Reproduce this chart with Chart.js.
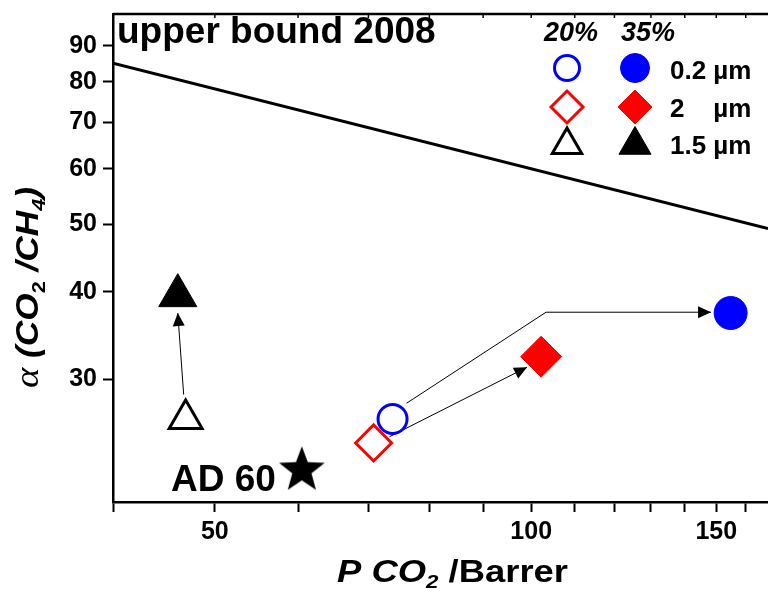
<!DOCTYPE html>
<html lang="en">
<head>
<meta charset="UTF-8" />
<title>CO2/CH4 permeability vs selectivity</title>
<script src="https://cdn.jsdelivr.net/npm/chart.js"></script>
<style>
  body { margin: 0; background: #fff; overflow: hidden; }
  canvas { display: block; }
</style>
</head>
<body>
<canvas id="chart" width="768" height="604"></canvas>
<script>
  // values (log-log axes)
  const sizes = ['0.2 µm', '2    µm', '1.5 µm'];
  const loadings = ['20%', '35%'];
  const perm20 = [73.8, 70.8, 46.9];
  const alpha20 = [26.3, 24.3, 26.3];
  const perm35 = [154.8, 102.2, 46.1];
  const alpha35 = [37.3, 32.3, 39.5];
  const ad60Perm = [60.5];
  const ad60Alpha = [22.2];
  const boundPerm = [40, 168];
  const boundAlpha = [85.0, 49.3];
  const arrowPerm = [[46.7, 46.1], [76.1, 103.3, 148.3], [73.3, 99.1]];
  const arrowAlpha = [[28.5, 37.3], [27.7, 37.4, 37.4], [24.8, 31.2]];
  const xTicks = [40, 50, 60, 70, 80, 90, 100, 110, 120, 130, 140, 150, 160];
  const xLabels = [50, 100, 150];
  const yTicks = [30, 40, 50, 60, 70, 80, 90];

  const family = "'Liberation Sans', Arial, sans-serif";
  const colors = ['#0000ff', '#ff0000', '#000000'];
  const shapes = ['circle', 'rectRot', 'triangle'];

  const pts = (xs, ys) => xs.map((x, i) => ({ x: x, y: ys[i] }));

  function makeStar(r) {
    const c = document.createElement('canvas');
    c.width = c.height = Math.ceil(r * 2 + 2);
    const g = c.getContext('2d');
    const cx = c.width / 2, cy = c.height / 2;
    g.beginPath();
    for (let i = 0; i < 10; i++) {
      const rr = i % 2 ? r * 0.42 : r;
      const ang = -Math.PI / 2 + i * Math.PI / 5;
      g.lineTo(cx + rr * Math.cos(ang), cy + rr * Math.sin(ang));
    }
    g.closePath();
    g.fillStyle = '#000';
    g.fill();
    return c;
  }

  // text made of pieces [text, font, dy], stretched to a given width
  function drawRich(ctx, parts, x, y, width) {
    let total = 0;
    parts.forEach(p => { ctx.font = p[1]; total += ctx.measureText(p[0]).width; });
    ctx.save();
    ctx.translate(x, y);
    if (width) ctx.scale(width / total, 1);
    let cx = 0;
    parts.forEach(p => {
      ctx.font = p[1];
      ctx.fillText(p[0], cx, p[2] || 0);
      cx += ctx.measureText(p[0]).width;
    });
    ctx.restore();
  }

  function mark(ctx, style, r, x, y, fill, stroke, lw) {
    ctx.fillStyle = fill;
    ctx.strokeStyle = stroke;
    ctx.lineWidth = lw;
    Chart.helpers.drawPoint(ctx, { pointStyle: style, radius: r, rotation: 0, borderWidth: lw }, x, y);
  }

  // keep the plot area exactly where the figure has it
  function noPad(s) {
    s.paddingTop = 0;
    s.paddingBottom = 0;
    s.paddingLeft = 0;
    s.paddingRight = 0;
  }

  const decor = {
    id: 'decor',
    afterDatasetsDraw(chart) {
      const ctx = chart.ctx;
      chart.data.datasets.forEach((ds, i) => {
        if (!ds.arrow) return;
        const p = chart.getDatasetMeta(i).data;
        const a = p[p.length - 2], b = p[p.length - 1];
        const ang = Math.atan2(b.y - a.y, b.x - a.x);
        ctx.save();
        ctx.translate(b.x, b.y);
        ctx.rotate(ang);
        ctx.beginPath();
        ctx.moveTo(0, 0);
        ctx.lineTo(-13, -6);
        ctx.lineTo(-13, 6);
        ctx.closePath();
        ctx.fillStyle = '#000';
        ctx.fill();
        ctx.restore();
      });
    },
    afterDraw(chart) {
      const ctx = chart.ctx;
      const a = chart.chartArea;
      const x = chart.scales.x;
      ctx.save();
      ctx.strokeStyle = '#000';
      ctx.lineWidth = 2.5;
      ctx.beginPath();
      ctx.moveTo(a.left, a.top);
      ctx.lineTo(a.right, a.top);
      ctx.stroke();
      ctx.lineWidth = 1.5;
      xTicks.forEach(v => {
        const px = x.getPixelForValue(v);
        ctx.beginPath();
        ctx.moveTo(px, a.top);
        ctx.lineTo(px, a.top + 4);
        ctx.stroke();
      });

      ctx.fillStyle = '#000';
      ctx.textBaseline = 'alphabetic';
      ctx.textAlign = 'left';
      ctx.font = 'bold 37px ' + family;
      ctx.fillText('upper bound 2008', a.left + 4, a.top + 29);

      // AD 60 label next to the star
      const star = chart.getDatasetMeta(2).data[0];
      ctx.textAlign = 'right';
      ctx.fillText('AD 60', star.x - 26, star.y + 21);

      // legend
      ctx.textAlign = 'center';
      ctx.font = 'italic bold 27px ' + family;
      ctx.fillText(loadings[0], 571, 41);
      ctx.fillText(loadings[1], 648, 41);
      const rowY = [68, 107, 145];
      const base = [79, 117, 154];
      const open = [12.5, 16, 17];
      const full = [14.5, 17, 18.5];
      for (let i = 0; i < 3; i++) {
        mark(ctx, shapes[i], open[i], 567, rowY[i], '#fff', colors[i], 3);
        mark(ctx, shapes[i], full[i], 635, rowY[i], colors[i], colors[i], 1);
        ctx.fillStyle = '#000';
        ctx.textAlign = 'left';
        ctx.font = 'bold 26px ' + family;
        ctx.fillText(sizes[i], 670, base[i]);
      }

      // axis titles
      const bi = 'italic bold 31px ' + family;
      const sub = 'bold 19px ' + family;
      ctx.textAlign = 'left';
      drawRich(ctx, [['P', bi], [' CO', bi], ['2', 'italic ' + sub, 6], [' /Barrer', 'bold 31px ' + family]], 337, 582, 231);

      ctx.save();
      ctx.translate(38, 388);
      ctx.rotate(-Math.PI / 2);
      drawRich(ctx, [
        ['α', "italic 34px 'Liberation Serif', serif"],
        [' (CO', bi], ['2', sub, 7], [' /CH', bi], ['4', 'italic ' + sub, 7], [')', bi]
      ], 0, 0, 201);
      ctx.restore();
      ctx.restore();
    }
  };

  const arrowSets = arrowPerm.map((xs, i) => ({
    data: pts(xs, arrowAlpha[i]),
    arrow: true,
    showLine: true,
    borderColor: '#000',
    borderWidth: 1,
    pointRadius: 0,
    order: 2
  }));

  new Chart(document.getElementById('chart'), {
    type: 'scatter',
    data: {
      datasets: [
        {
          label: loadings[0],
          data: pts(perm20, alpha20),
          pointStyle: shapes,
          pointRadius: [14.5, 18, 19],
          pointBorderColor: colors,
          pointBackgroundColor: '#fff',
          pointBorderWidth: 3,
          order: 0
        },
        {
          label: loadings[1],
          data: pts(perm35, alpha35),
          pointStyle: shapes,
          pointRadius: [16.5, 20.5, 22],
          pointBorderColor: colors,
          pointBackgroundColor: colors,
          pointBorderWidth: 1,
          order: 0
        },
        {
          label: 'AD 60',
          data: pts(ad60Perm, ad60Alpha),
          pointStyle: makeStar(24),
          pointRadius: 24,
          order: 0
        },
        {
          label: 'upper bound 2008',
          data: pts(boundPerm, boundAlpha),
          showLine: true,
          borderColor: '#000',
          borderWidth: 3,
          pointRadius: 0,
          order: 3
        },
        ...arrowSets
      ]
    },
    options: {
      responsive: false,
      animation: false,
      events: [],
      layout: { autoPadding: false, padding: { top: 14, left: 0, right: 0, bottom: 0 } },
      plugins: { legend: { display: false }, tooltip: { enabled: false } },
      scales: {
        x: {
          type: 'logarithmic',
          min: 40,
          max: 168,
          afterBuildTicks: s => { s.ticks = xTicks.map(v => ({ value: v })); },
          afterFit: s => { s.height = 102; noPad(s); },
          ticks: {
            autoSkip: false,
            maxRotation: 0,
            padding: 5,
            color: '#000',
            font: { family: family, size: 25, weight: 'bold' },
            callback: v => xLabels.includes(v) ? String(v) : ''
          },
          grid: { drawOnChartArea: false, drawTicks: true, tickLength: 10, tickWidth: 2, tickColor: '#000' },
          border: { display: true, color: '#000', width: 2.5 }
        },
        y: {
          type: 'logarithmic',
          min: 20,
          max: 100,
          afterBuildTicks: s => { s.ticks = yTicks.map(v => ({ value: v })); },
          afterFit: s => { s.width = 113; noPad(s); },
          ticks: {
            autoSkip: false,
            padding: 6,
            color: '#000',
            font: { family: family, size: 25, weight: 'bold' },
            callback: v => String(v)
          },
          grid: { drawOnChartArea: false, drawTicks: true, tickLength: 10, tickWidth: 2, tickColor: '#000' },
          border: { display: true, color: '#000', width: 2.5 }
        }
      }
    },
    plugins: [decor]
  });
</script>
</body>
</html>
